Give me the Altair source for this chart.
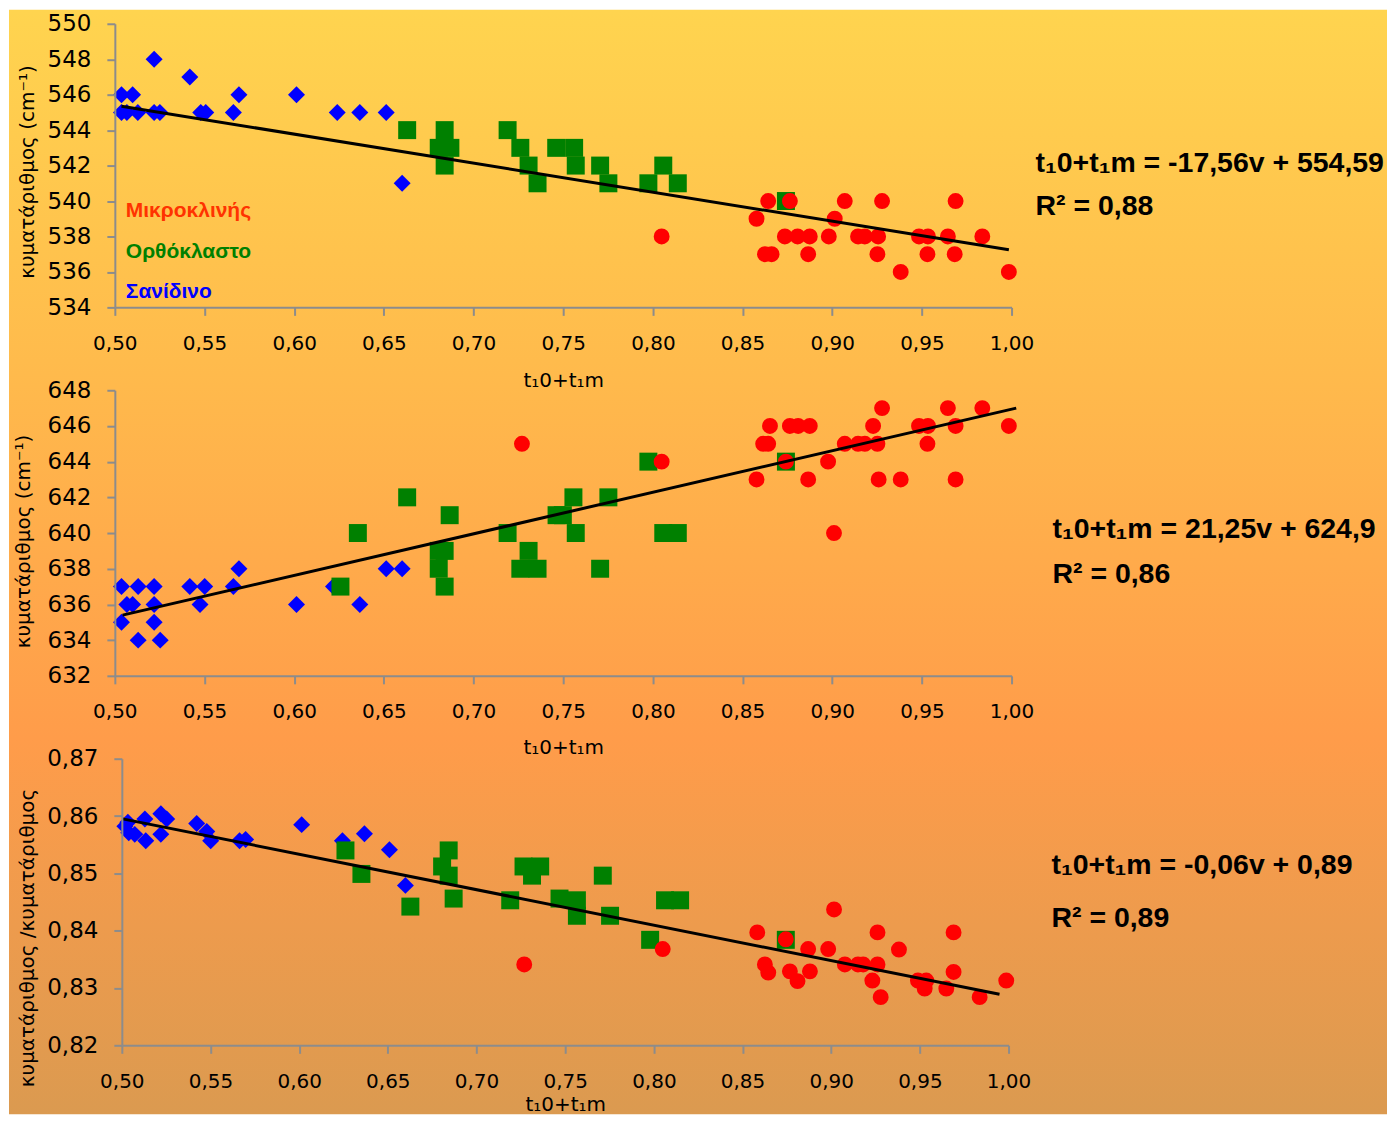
import altair as alt
import pandas as pd

# ---------------- data ----------------
x_ticks = [0.50, 0.55, 0.60, 0.65, 0.70, 0.75, 0.80, 0.85, 0.90, 0.95, 1.00]
x_title = "t₁0+t₁m"
legend_labels = ["Μικροκλινής", "Ορθόκλαστο", "Σανίδινο"]

# panel 1
p1_y_ticks = [534, 536, 538, 540, 542, 544, 546, 548, 550]
p1_y_title = "κυματάριθμος (cm⁻¹)"
p1_blue_x = [0.5037, 0.5099, 0.5692, 0.6013, 0.5037, 0.5067, 0.5128, 0.5219, 0.5251, 0.5479,
             0.5507, 0.5661, 0.6240, 0.6366, 0.6513, 0.5219, 0.5418, 0.6602]
p1_blue_y = [546, 546, 546, 546, 545, 545, 545, 545, 545, 545,
             545, 545, 545, 545, 545, 548, 547, 541]
p1_green_x = [0.6630, 0.6839, 0.6806, 0.6871, 0.6839, 0.7190, 0.7261, 0.7307, 0.7357, 0.7461,
              0.7561, 0.7570, 0.7706, 0.7752, 0.7975, 0.8058, 0.8139, 0.8742]
p1_green_y = [544, 544, 543, 543, 542, 544, 543, 542, 541, 543,
              543, 542, 542, 541, 541, 542, 541, 540]
p1_red_x = [0.8049, 0.8578, 0.8643, 0.8625, 0.8662, 0.8764, 0.8736, 0.8807, 0.8875, 0.8866,
            0.8981, 0.9014, 0.9070, 0.9144, 0.9182, 0.9256, 0.9252, 0.9278, 0.9382, 0.9484,
            0.9534, 0.9531, 0.9645, 0.9688, 0.9683, 0.9837, 0.9985]
p1_red_y = [538, 539, 540, 537, 537, 540, 538, 538, 538, 537,
            538, 539, 540, 538, 538, 538, 537, 540, 536, 538,
            538, 537, 538, 540, 537, 538, 536]
p1_line_x = [0.5037, 0.9985]
p1_line_y = [545.35, 537.25]
p1_equation = "t₁0+t₁m = -17,56v + 554,59"
p1_r2 = "R² = 0,88"

# panel 2
p2_y_ticks = [632, 634, 636, 638, 640, 642, 644, 646, 648]
p2_y_title = "κυματάριθμος (cm⁻¹)"
p2_blue_x = [0.5037, 0.5130, 0.5219, 0.5067, 0.5099, 0.5219, 0.5037, 0.5219, 0.5130, 0.5253,
             0.5418, 0.5501, 0.5475, 0.5661, 0.5692, 0.6013, 0.6219, 0.6366, 0.6513, 0.6602]
p2_blue_y = [637, 637, 637, 636, 636, 636, 635, 635, 634, 634,
             637, 637, 636, 637, 638, 636, 637, 636, 638, 638]
p2_green_x = [0.6258, 0.6355, 0.6630, 0.6867, 0.6806, 0.6839, 0.6806, 0.6839, 0.7190, 0.7307,
              0.7261, 0.7357, 0.7463, 0.7498, 0.7557, 0.7570, 0.7706, 0.7752, 0.7975, 0.8058,
              0.8139, 0.8742]
p2_green_y = [637, 640, 642, 641, 639, 639, 638, 637, 640, 639,
              638, 638, 641, 641, 642, 640, 638, 642, 644, 640,
              640, 644]
p2_red_x = [0.7270, 0.8049, 0.8578, 0.8615, 0.8643, 0.8653, 0.8742, 0.8764, 0.8810, 0.8875,
            0.8866, 0.8977, 0.9010, 0.9070, 0.9144, 0.9182, 0.9228, 0.9252, 0.9278, 0.9259,
            0.9382, 0.9484, 0.9534, 0.9531, 0.9645, 0.9688, 0.9688, 0.9837, 0.9985]
p2_red_y = [645, 644, 643, 645, 645, 646, 644, 646, 646, 646,
            643, 644, 640, 645, 645, 645, 646, 645, 647, 643,
            643, 646, 646, 645, 647, 646, 643, 647, 646]
p2_line_x = [0.5043, 1.0026]
p2_line_y = [635.4, 647.0]
p2_equation = "t₁0+t₁m = 21,25v + 624,9"
p2_r2 = "R² = 0,86"

# panel 3
p3_y_ticks = [0.82, 0.83, 0.84, 0.85, 0.86, 0.87]
p3_y_title = "κυματάριθμος /κυματάριθμος"
p3_blue_x = [0.5017, 0.5034, 0.5039, 0.5073, 0.5130, 0.5135, 0.5220, 0.5253, 0.5220, 0.5422,
             0.5479, 0.5501, 0.5664, 0.5698, 0.6014, 0.6244, 0.6368, 0.6509, 0.6599]
p3_blue_y = [0.8582, 0.8589, 0.8571, 0.8568, 0.8595, 0.8557, 0.8604, 0.8595, 0.8568, 0.8587,
             0.8573, 0.8557, 0.8557, 0.8559, 0.8585, 0.8557, 0.8569, 0.8541, 0.8479]
p3_green_x = [0.6261, 0.6351, 0.6627, 0.6843, 0.6806, 0.6843, 0.6871, 0.7190, 0.7265, 0.7313,
              0.7359, 0.7468, 0.7566, 0.7566, 0.7712, 0.7753, 0.7979, 0.8063, 0.8148, 0.8744]
p3_green_y = [0.8540, 0.8499, 0.8442, 0.8540, 0.8512, 0.8496, 0.8456, 0.8453, 0.8512, 0.8496,
              0.8512, 0.8456, 0.8453, 0.8426, 0.8496, 0.8426, 0.8384, 0.8453, 0.8453, 0.8384]
p3_red_x = [0.7269, 0.8050, 0.8583, 0.8626, 0.8645, 0.8744, 0.8767, 0.8810, 0.8870, 0.8880,
            0.8983, 0.9016, 0.9077, 0.9151, 0.9180, 0.9261, 0.9261, 0.9232, 0.9279, 0.9382,
            0.9489, 0.9536, 0.9527, 0.9649, 0.9690, 0.9690, 0.9837, 0.9987]
p3_red_y = [0.8341, 0.8368, 0.8397, 0.8341, 0.8327, 0.8385, 0.8329, 0.8312, 0.8368, 0.8329,
            0.8368, 0.8437, 0.8341, 0.8341, 0.8341, 0.8397, 0.8341, 0.8313, 0.8284, 0.8367,
            0.8313, 0.8313, 0.8299, 0.8299, 0.8397, 0.8328, 0.8284, 0.8313]
p3_line_x = [0.5004, 0.9949]
p3_line_y = [0.8595, 0.8289]
p3_equation = "t₁0+t₁m = -0,06v + 0,89"
p3_r2 = "R² = 0,89"

# ---------------- styling ----------------
BLUE, GREEN, RED, LEG_RED = "#0000FF", "#008000", "#FF0000", "#FF3300"
AXIS_GREY = "#8C8C8C"
EQ_FONT = "Liberation Sans, Arial, DejaVu Sans"
LAB_FONT = "DejaVu Sans"
COMMA_EXPR = "replace(format(datum.value, '.2f'), '.', ',')"
EQ_SIZE = 28.5

AX = dict(domainColor=AXIS_GREY, domainWidth=2, tickColor=AXIS_GREY, tickWidth=2, tickSize=8,
          labelColor="black", labelFont=LAB_FONT, grid=False, labelFlush=False, labelOverlap=False,
          titleFont=LAB_FONT, titleFontSize=20, titleFontWeight="normal", titleColor="black",
          zindex=1)

background = alt.Gradient(
    gradient="linear", x1=0, y1=0, x2=0, y2=1,
    stops=[alt.GradientStop(offset=0.0, color="#FFD44F"),
           alt.GradientStop(offset=0.33, color="#FFBA4C"),
           alt.GradientStop(offset=0.66, color="#FF9C4A"),
           alt.GradientStop(offset=1.0, color="#DB9A50")],
)


def text_layer(label, x, y, size, color="black"):
    return alt.Chart(pd.DataFrame({"t": [label]})).mark_text(
        align="left", baseline="alphabetic", font=EQ_FONT, fontSize=size,
        fontWeight="bold", color=color,
    ).encode(text="t:N", x=alt.value(x), y=alt.value(y))


def panel(bx, by, gx, gy, rx, ry, lx, ly, ydom, yticks, ytitle, ylabel_expr,
          ytitle_x, ytitle_y, xtitle_y, eq, r2, eq_x, eq_y, r2_y,
          width, height, xrange=None, yoffset=0, extra=None):
    xs = dict(domain=[0.5, 1.0], nice=False, zero=False)
    if xrange is not None:
        xs["range"] = xrange
    xenc = alt.X("x:Q", scale=alt.Scale(**xs),
                 axis=alt.Axis(values=x_ticks, labelExpr=COMMA_EXPR, labelFontSize=20,
                               labelPadding=18, title=x_title, titleY=xtitle_y,
                               titleBaseline="alphabetic", **AX))
    yax = dict(values=yticks, labelFontSize=23, labelPadding=16, title=ytitle,
               titleX=ytitle_x, titleY=ytitle_y, titleAngle=270, titleAlign="center",
               titleBaseline="middle", offset=yoffset, **AX)
    if ylabel_expr:
        yax["labelExpr"] = ylabel_expr
    else:
        yax["format"] = "d"
    yenc = alt.Y("y:Q", scale=alt.Scale(domain=ydom, nice=False, zero=False), axis=alt.Axis(**yax))

    blue = alt.Chart(pd.DataFrame({"x": bx, "y": by})).mark_point(
        shape="diamond", filled=True, size=289, color=BLUE, opacity=1, strokeWidth=0
    ).encode(x=xenc, y=yenc)
    green = alt.Chart(pd.DataFrame({"x": gx, "y": gy})).mark_square(
        size=324, color=GREEN, opacity=1
    ).encode(x=xenc, y=yenc)
    red = alt.Chart(pd.DataFrame({"x": rx, "y": ry})).mark_circle(
        size=254, color=RED, opacity=1
    ).encode(x=xenc, y=yenc)
    line = alt.Chart(pd.DataFrame({"x": lx, "y": ly})).mark_line(
        color="black", strokeWidth=3
    ).encode(x=xenc, y=yenc)

    layers = []
    if extra is not None:
        layers.append(extra)
    layers += [blue, green, red, line,
               text_layer(eq, eq_x, eq_y, EQ_SIZE), text_layer(r2, eq_x, r2_y, EQ_SIZE)]
    return alt.layer(*layers).properties(width=width, height=height)


bg_rect = alt.Chart(pd.DataFrame({"d": [0]})).mark_rect(fill=background).encode(
    x=alt.value(-106), x2=alt.value(1274), y=alt.value(-14), y2=alt.value(1092)
)

p1 = panel(p1_blue_x, p1_blue_y, p1_green_x, p1_green_y, p1_red_x, p1_red_y,
           p1_line_x, p1_line_y, [534, 550], p1_y_ticks, p1_y_title, None,
           -87, 148, 79, p1_equation, p1_r2, 922, 148, 191, 898, 284, extra=bg_rect)
p1 = alt.layer(p1,
               text_layer(legend_labels[0], 11, 194, 21, LEG_RED),
               text_layer(legend_labels[1], 11, 235, 21, GREEN),
               text_layer(legend_labels[2], 11, 275, 21, BLUE))

p2 = panel(p2_blue_x, p2_blue_y, p2_green_x, p2_green_y, p2_red_x, p2_red_y,
           p2_line_x, p2_line_y, [632, 648], p2_y_ticks, p2_y_title, None,
           -91, 151, 78, p2_equation, p2_r2, 939, 148, 193, 898, 286)

p3 = panel(p3_blue_x, p3_blue_y, p3_green_x, p3_green_y, p3_red_x, p3_red_y,
           p3_line_x, p3_line_y, [0.82, 0.87], p3_y_ticks, p3_y_title, COMMA_EXPR,
           -94, 179, 65, p3_equation, p3_r2, 938, 115, 169, 895, 287,
           xrange=[7, 895], yoffset=-7)

chart = alt.vconcat(p1, p2, p3, spacing=83, bounds="flush").properties(
    padding=0
).configure_view(stroke="transparent")

chart.save("out.html", embed_options={"renderer": "svg", "actions": False})
